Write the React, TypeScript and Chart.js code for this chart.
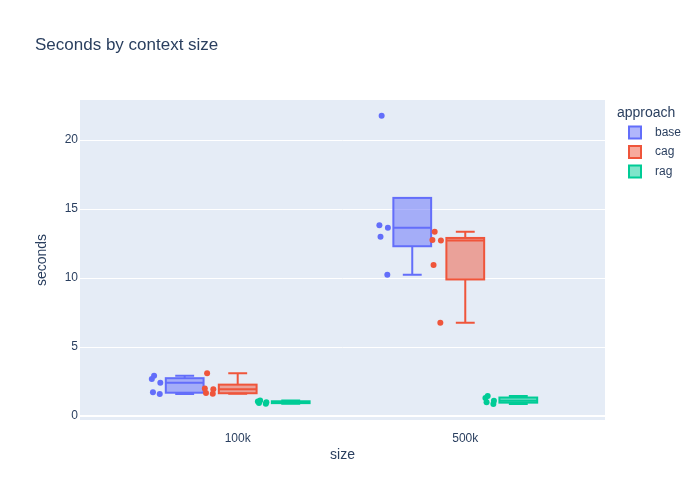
import { useEffect, useRef } from "react";
import { Chart, registerables } from "chart.js";

Chart.register(...registerables);

const SIZES = ["100k", "500k"];
const APPROACHES = ["base", "cag", "rag"];

// seconds per run
const BASE_100K = [1.59, 1.72, 2.41, 2.68, 2.92];
const BASE_500K = [10.24, 12.99, 13.64, 13.82, 21.76];
const CAG_100K = [1.62, 1.66, 1.93, 2.0, 3.09];
const CAG_500K = [6.76, 10.94, 12.72, 12.75, 13.36];
const RAG_100K = [0.88, 0.95, 1.0, 1.05, 1.12];
const RAG_500K = [0.87, 1.0, 1.1, 1.3, 1.45];

const Y_TICKS = [0, 5, 10, 15, 20];

const SERIES = [
  [BASE_100K, BASE_500K],
  [CAG_100K, CAG_500K],
  [RAG_100K, RAG_500K],
];

const COLORS = ["#636efa", "#EF553B", "#00cc96"];
const FILLS = ["rgba(99,110,250,0.5)", "rgba(239,85,59,0.5)", "rgba(0,204,150,0.5)"];
const FONT = "'Liberation Sans', Arial, sans-serif";
const TEXT = "#2a3f5f";

// box layout in category units
const GROUP_OFFSETS = [-0.233, 0, 0.233];
const BOX_HALF = 0.083;
const POINT_POS = -1.5;
const JITTER = 0.3;
const JITTER_PATTERN = [0.6, -0.6, 0.7, -0.8, -0.4];

function quantile(sorted: number[], p: number) {
  const n = sorted.length;
  const pos = p * n - 0.5;
  if (pos <= 0) return sorted[0];
  if (pos >= n - 1) return sorted[n - 1];
  const lo = Math.floor(pos);
  const t = pos - lo;
  return sorted[lo] + t * (sorted[lo + 1] - sorted[lo]);
}

function boxStats(values: number[]) {
  const s = [...values].sort((a, b) => a - b);
  const q1 = quantile(s, 0.25);
  const med = quantile(s, 0.5);
  const q3 = quantile(s, 0.75);
  const iqr = q3 - q1;
  const inLow = s.filter((v) => v >= q1 - 1.5 * iqr);
  const inHigh = s.filter((v) => v <= q3 + 1.5 * iqr);
  const lf = Math.min(q1, inLow[0]);
  const uf = Math.max(q3, inHigh[inHigh.length - 1]);
  return { q1, med, q3, lf, uf };
}

const boxPlugin = {
  id: "boxes",
  beforeDraw(chart: any) {
    const { ctx, chartArea } = chart;
    ctx.save();
    ctx.fillStyle = "#ffffff";
    ctx.fillRect(0, 0, chart.width, chart.height);
    ctx.fillStyle = "#E5ECF6";
    ctx.fillRect(chartArea.left, chartArea.top, chartArea.right - chartArea.left, chartArea.bottom - chartArea.top);
    ctx.restore();
  },
  beforeDatasetsDraw(chart: any) {
    const { ctx, chartArea, scales } = chart;
    const x = scales.x;
    const y = scales.y;
    ctx.save();
    ctx.beginPath();
    ctx.rect(chartArea.left, chartArea.top, chartArea.right - chartArea.left, chartArea.bottom - chartArea.top);
    ctx.clip();
    SERIES.forEach((bySize, a) => {
      bySize.forEach((values, s) => {
        const st = boxStats(values);
        const cx = s + GROUP_OFFSETS[a];
        const left = x.getPixelForValue(cx - BOX_HALF);
        const right = x.getPixelForValue(cx + BOX_HALF);
        const mid = x.getPixelForValue(cx);
        const capL = x.getPixelForValue(cx - BOX_HALF / 2);
        const capR = x.getPixelForValue(cx + BOX_HALF / 2);
        const yq1 = y.getPixelForValue(st.q1);
        const yq3 = y.getPixelForValue(st.q3);
        const ymed = y.getPixelForValue(st.med);
        const ylf = y.getPixelForValue(st.lf);
        const yuf = y.getPixelForValue(st.uf);
        ctx.lineWidth = 2;
        ctx.strokeStyle = COLORS[a];
        ctx.fillStyle = FILLS[a];
        ctx.fillRect(left, yq3, right - left, yq1 - yq3);
        ctx.strokeRect(left, yq3, right - left, yq1 - yq3);
        ctx.beginPath();
        ctx.moveTo(left, ymed);
        ctx.lineTo(right, ymed);
        if (st.uf > st.q3) {
          ctx.moveTo(mid, yq3);
          ctx.lineTo(mid, yuf);
          ctx.moveTo(capL, yuf);
          ctx.lineTo(capR, yuf);
        }
        if (st.lf < st.q1) {
          ctx.moveTo(mid, yq1);
          ctx.lineTo(mid, ylf);
          ctx.moveTo(capL, ylf);
          ctx.lineTo(capR, ylf);
        }
        ctx.stroke();
      });
    });
    ctx.restore();
  },
  afterDraw(chart: any) {
    const { ctx, chartArea } = chart;
    ctx.save();
    ctx.fillStyle = TEXT;
    ctx.textBaseline = "middle";

    ctx.font = `17px ${FONT}`;
    ctx.textAlign = "left";
    ctx.fillText("Seconds by context size", 35, 45);

    ctx.font = `14px ${FONT}`;
    ctx.textAlign = "center";
    ctx.fillText("size", (chartArea.left + chartArea.right) / 2, 455);
    ctx.save();
    ctx.translate(42, (chartArea.top + chartArea.bottom) / 2);
    ctx.rotate(-Math.PI / 2);
    ctx.fillText("seconds", 0, 0);
    ctx.restore();

    // legend
    ctx.textAlign = "left";
    ctx.font = `14px ${FONT}`;
    ctx.fillText("approach", 617, 113);
    ctx.font = `12px ${FONT}`;
    APPROACHES.forEach((name, i) => {
      const cy = 132.5 + i * 19.5;
      ctx.fillStyle = FILLS[i];
      ctx.strokeStyle = COLORS[i];
      ctx.lineWidth = 2;
      ctx.fillRect(629, cy - 6, 12, 12);
      ctx.strokeRect(629, cy - 6, 12, 12);
      ctx.fillStyle = TEXT;
      ctx.fillText(name, 655, cy);
    });
    ctx.restore();
  },
};

export default function App() {
  const chartRef = useRef<HTMLCanvasElement>(null);
  const chartInstance = useRef<Chart | null>(null);

  useEffect(() => {
    if (!chartRef.current) return;
    if (chartInstance.current) chartInstance.current.destroy();

    const datasets = APPROACHES.map((name, a) => ({
      label: name,
      data: SERIES[a].flatMap((values, s) =>
        values.map((v, i) => ({
          x: s + GROUP_OFFSETS[a] + (POINT_POS + JITTER * JITTER_PATTERN[i % JITTER_PATTERN.length]) * BOX_HALF,
          y: v,
        }))
      ),
      backgroundColor: COLORS[a],
      borderWidth: 0,
      pointRadius: 3,
    }));

    chartInstance.current = new Chart(chartRef.current, {
      type: "scatter",
      data: { datasets },
      plugins: [boxPlugin],
      options: {
        animation: false,
        responsive: true,
        maintainAspectRatio: false,
        layout: { padding: { top: 100, right: 95, left: 0, bottom: 0 } },
        plugins: {
          legend: { display: false },
          tooltip: { enabled: false },
        },
        scales: {
          x: {
            type: "linear",
            min: -0.693,
            max: 1.614,
            grid: { display: false },
            border: { display: false },
            afterFit: (scale: any) => {
              scale.height = 80;
            },
            afterBuildTicks: (scale: any) => {
              scale.ticks = SIZES.map((_, i) => ({ value: i }));
            },
            ticks: {
              padding: 3,
              color: TEXT,
              font: { family: FONT, size: 12 },
              callback: (value: any) => SIZES[value] ?? "",
            },
          },
          y: {
            min: -0.29,
            max: 22.9,
            border: { display: false },
            grid: {
              color: "#ffffff",
              lineWidth: (c: any) => (c.tick && c.tick.value === 0 ? 2 : 1),
              drawTicks: false,
            },
            afterFit: (scale: any) => {
              scale.width = 80;
            },
            afterBuildTicks: (scale: any) => {
              scale.ticks = Y_TICKS.map((v) => ({ value: v }));
            },
            ticks: {
              padding: 2,
              color: TEXT,
              font: { family: FONT, size: 12 },
            },
          },
        },
      },
    });

    return () => {
      if (chartInstance.current) {
        chartInstance.current.destroy();
        chartInstance.current = null;
      }
    };
  }, []);

  return (
    <div style={{ position: "absolute", left: 0, top: 0, width: "700px", height: "500px" }}>
      <canvas ref={chartRef} />
    </div>
  );
}
